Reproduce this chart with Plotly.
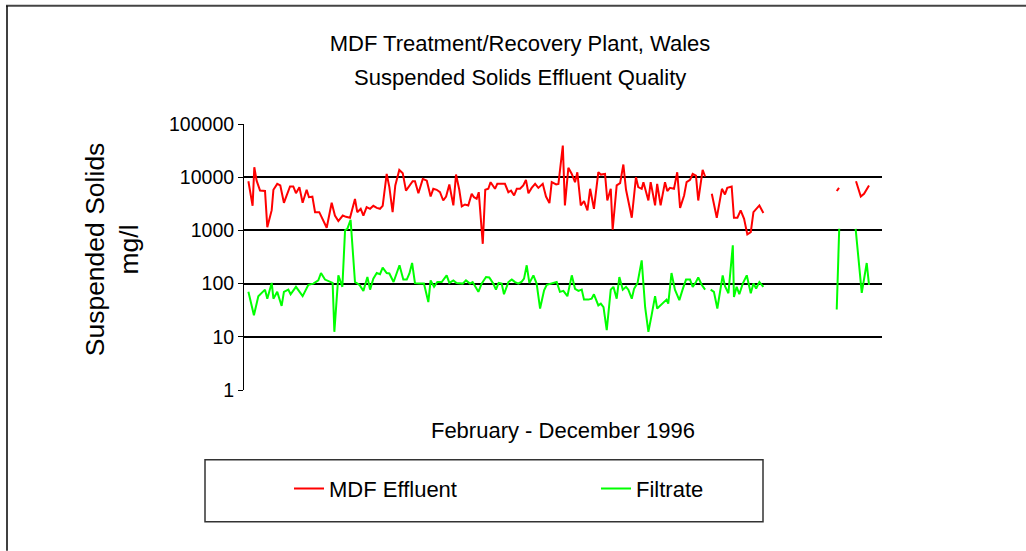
import plotly.graph_objects as go

# ---- data (days since 1 Feb 1996; None marks gaps in sampling) ----
effluent_days = [
    2.3, 4.5, 5.4, 6.6, 8.4, 11.0, 12.2, 14.5, 15.4, 17.4, 19.0, 20.9, 22.3, 24.1, 25.8, 27.2,
    29.0, 30.7, 32.8, 34.0, 35.8, 37.2, 39.4, 41.2, 43.3, 45.9, 47.6, 49.4, 51.7, 53.4, 55.5,
    58.1, 59.3, 61.1, 62.5, 64.2, 66.0, 67.7, 69.5, 71.2, 72.6, 74.7, 76.1, 77.8, 79.2, 81.3,
    83.1, 84.8, 86.9, 88.3, 89.5, 91.3, 93.6, 95.7, 97.7, 99.1, 100.9, 102.6, 104.3, 105.8,
    107.5, 109.6, 111.0, 112.7, 114.0, 115.7, 117.4, 119.2, 120.4, 121.8, 122.9, 125.0, 126.3,
    127.9, 129.1, 131.4, 132.6, 134.9, 136.6, 138.4, 139.8, 141.4, 142.8, 144.5, 146.2, 147.6,
    148.9, 150.6, 152.4, 154.1, 156.4, 158.1, 159.9, 161.1, 163.4, 164.6, 166.9, 168.0, 169.8,
    171.6, 173.3, 174.5, 176.3, 178.0, 179.8, 181.2, 183.2, 185.5, 186.8, 189.0, 190.2, 192.0,
    193.0, 195.1, 196.9, 198.6, 200.0, 203.0, 205.2, 206.4, 208.2, 209.1, 211.7, 212.9, 215.2,
    216.3, 218.1, 220.4, 221.6, 223.0, 225.1, 226.8, 228.3, 230.4, 231.7, 233.5, 234.9, 236.6,
    237.8, 240.1, 241.4, 243.0, 244.9, 247.5, 250.2, 251.8, 253.0, 255.3, 256.5, 258.3, 260.0,
    261.8, 263.5, 265.3, 266.7, 269.8, 271.9, 290.0, 310.3, 311.5, 315.0, 320.4, 322.9, 324.6,
    327.2,
]
effluent_mgl = [
    8400, 2900, 15400, 8600, 5600, 5500, 1150, 2400, 5800, 7500, 7000, 3300, 4500, 6700, 6700, 5000,
    6500, 3300, 5800, 4200, 4300, 2200, 2200, 1650, 1120, 3300, 1900, 1500, 1900, 1800, 1730,
    3900, 2200, 2550, 1900, 2750, 2550, 2900, 2650, 2550, 2900, 11500, 6500, 2200, 7000, 13700,
    11900, 5600, 7000, 8400, 8400, 5000, 9300, 8600, 4330, 6050, 5800, 5230, 3650, 4330,
    7290, 2950, 11200, 5800, 2820, 3070, 2950, 4870, 4200, 3930, 5230, 560, 5800,
    6050, 8060, 6050, 7500, 7500, 7500, 5230, 5600, 4530, 6050, 6050, 7000, 8900,
    5000, 6300, 7500, 6300, 7500, 4330, 3260, 8060, 7290, 7500, 39300, 2950, 15000,
    11500, 8060, 12400, 2950, 3540, 2370, 6050, 2550, 12400, 11200, 11500, 3650, 6050,
    1030, 7000, 7730, 17300, 5800, 1730, 10000, 6500, 6050, 8060, 3650, 8060, 2950,
    7500, 2950, 8060, 5500, 6300, 6050, 12400, 2650, 4530, 8060, 8900, 11500, 10700,
    3650, 13700, 10300, None, 4870, 1730, 6050, 4740, 6300, 6680, 1730, 1730, 2370,
    1650, 841, 930, 2200, 2950, 2120, None, 5500, 6300, None, 8400, 4330, 4870,
    7000,
]

filtrate_days = [
    2.3, 5.2, 7.5, 9.8, 11.0, 12.2, 14.5, 15.4, 17.4, 19.7, 20.9, 23.2, 24.4, 27.2, 30.7, 33.7,
    36.3, 38.9, 40.3, 42.4, 45.0, 46.4, 47.3, 49.4, 51.5, 52.9, 54.1, 55.8, 58.1, 60.4, 62.5,
    64.6, 66.0, 67.7, 69.5, 71.2, 72.6, 74.7, 76.1, 78.3, 81.4, 83.4, 85.2, 86.6, 88.0, 89.5,
    91.8, 94.2, 96.5, 97.7, 99.5, 101.2, 103.5, 106.1, 107.5, 109.6, 111.3, 113.0, 114.5,
    116.2, 118.3, 119.7, 122.7, 124.4, 126.7, 128.4, 130.5, 131.9, 133.3, 134.9, 136.1, 138.4,
    140.2, 141.9, 143.6, 145.4, 146.6, 148.0, 149.4, 151.5, 153.2, 155.0, 157.1, 158.5, 161.1,
    163.7, 165.4, 167.2, 169.3, 171.6, 173.3, 175.1, 176.8, 178.0, 180.3, 182.0, 183.2, 185.5,
    186.8, 188.2, 189.9, 192.0, 193.4, 195.1, 196.5, 198.3, 200.0, 201.2, 203.0, 204.2, 206.0,
    208.2, 210.0, 211.7, 213.4, 215.2, 216.3, 218.1, 219.8, 221.2, 222.1, 223.8, 225.6, 227.9,
    229.6, 231.4, 233.5, 234.9, 236.6, 237.8, 239.6, 241.4, 243.0, 244.3, 246.0, 247.8, 250.6,
    251.8, 253.6, 255.9, 256.5, 257.9, 259.3, 261.1, 263.2, 265.3, 266.7, 268.1, 269.8, 271.9,
    290.0, 310.3, 311.6, 315.0, 320.2, 323.4, 326.0, 327.2,
]
filtrate_mgl = [
    70, 25.5, 58, 70, 77, 52, 103, 52, 70, 38, 70, 77, 63, 87, 58, 95,
    100, 115, 158, 119, 109, 103, 12.4, 143, 87, 1000, 1070, 1580, 107, 95, 73,
    133, 77, 124, 158, 150, 200, 158, 155, 107, 221, 119, 119, 155, 244, 102,
    100, 100, 45, 115, 87, 107, 107, 143, 103, 115, 103, 100, 100,
    115, 100, 107, 70, 100, 133, 130, 100, 77, 103, 100, 63, 107,
    119, 107, 100, 109, 124, 221, 102, 143, 100, 34, 75, 95, 100,
    107, 70, 73, 58, 143, 80, 73, 77, 50, 50, 52, 63, 39,
    42, 36, 13.3, 77, 87, 52, 133, 77, 87, 77, 52, 80, 102,
    274, 36, 12.4, 25.5, 58, 34, 39, 44, 50, 42, 158, 77, 49,
    77, 119, 119, 87, 107, 130, 95, 77, None, 77, 70, 34, 143,
    89, 66, 525, 56, 87, 63, 100, 143, 66, 100, 81, 107, 87,
    None, 32.5, 1070, None, 1070, 67, 244, 95,
]

series_names = ["MDF Effluent", "Filtrate"]
series_colors = ["#FF0000", "#00FF00"]

y_tickvals = [1, 10, 100, 1000, 10000, 100000]
y_ticktext = ["1", "10", "100", "1000", "10000", "100000"]
day_range = [0, 334]

title_line1 = "MDF Treatment/Recovery Plant, Wales"
title_line2 = "Suspended Solids Effluent Quality"
x_title = "February - December 1996"
y_title = "Suspended Solids<br>mg/l"

FONT = "Liberation Sans, Arial, sans-serif"

fig = go.Figure()
for name, xs, ys, col in [
    (series_names[0], effluent_days, effluent_mgl, series_colors[0]),
    (series_names[1], filtrate_days, filtrate_mgl, series_colors[1]),
]:
    fig.add_trace(go.Scatter(
        x=xs, y=ys, name=name, mode="lines",
        line=dict(color=col, width=2), connectgaps=False,
    ))

W, H = 1026, 551
L, R, T, B = 244, 882, 123.5, 390
pw, ph = R - L, B - T


def px(xp):
    return (xp - L) / pw


def py(yp):
    return (B - yp) / ph


fig.update_layout(
    width=W, height=H,
    margin=dict(l=L, r=W - R, t=T, b=H - B, pad=0),
    paper_bgcolor="white", plot_bgcolor="white",
    font=dict(family=FONT, color="black", size=18),
    showlegend=True,
    title=dict(text=title_line1, x=520 / W, xanchor="center", xref="container",
               y=1 - 43 / H, yanchor="middle", yref="container",
               font=dict(size=22, family=FONT, color="black")),
    legend=dict(orientation="h", x=px(289), xanchor="left", y=py(489), yanchor="middle",
                bgcolor="rgba(0,0,0,0)", borderwidth=0,
                font=dict(size=22, family=FONT, color="black"),
                entrywidth=262, entrywidthmode="pixels", itemwidth=30),
    xaxis=dict(range=day_range, showgrid=False, zeroline=False, showline=False,
               showticklabels=False, ticks="",
               title=dict(text=x_title, font=dict(size=22, family=FONT, color="black"),
                          standoff=32)),
    yaxis=dict(type="log", range=[0, 5], tickvals=y_tickvals, ticktext=y_ticktext,
               showgrid=True, gridcolor="black", gridwidth=2,
               showline=True, linecolor="black", linewidth=1,
               ticks="outside", ticklen=5, tickcolor="black", tickwidth=1,
               tickfont=dict(size=19.5, family=FONT, color="black"), zeroline=False),
)

fig.add_annotation(text=title_line2, xref="paper", yref="paper", x=px(520), y=py(77),
                   xanchor="center", yanchor="middle", showarrow=False,
                   font=dict(size=22, family=FONT, color="black"))
fig.add_annotation(text=y_title, xref="paper", yref="paper", x=px(112), y=py(249),
                   xanchor="center", yanchor="middle", showarrow=False, textangle=-90,
                   font=dict(size=26.5, family=FONT, color="black"))

# legend frame and outer chart-border lines
fig.add_shape(type="rect", xref="paper", yref="paper", x0=px(205), x1=px(763),
              y0=py(522), y1=py(460), line=dict(color="#333333", width=1.5))
fig.add_shape(type="line", xref="paper", yref="paper", x0=px(6), x1=px(1026),
              y0=py(5), y1=py(5), line=dict(color="#444444", width=2))
fig.add_shape(type="line", xref="paper", yref="paper", x0=px(7), x1=px(7),
              y0=py(5), y1=py(551), line=dict(color="black", width=1.5))

fig.write_html("out.html", config={"displayModeBar": False},
               post_script="document.body.style.margin='0px';")
